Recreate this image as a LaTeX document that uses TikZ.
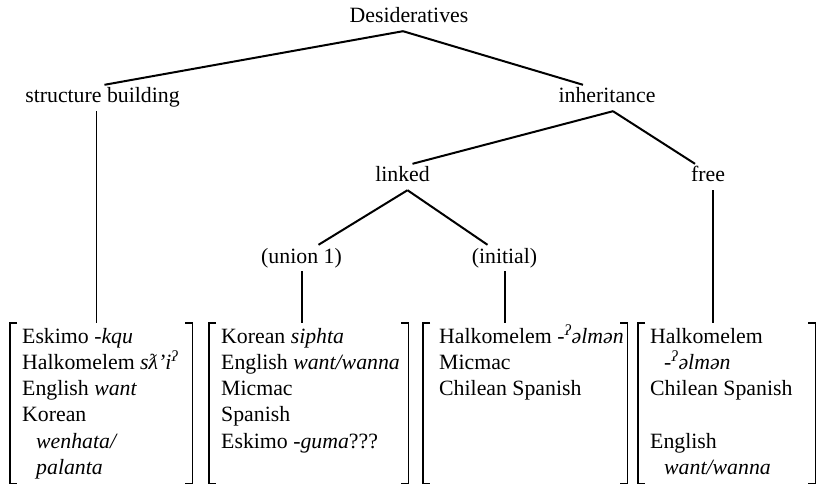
\documentclass[tikz,border=0pt]{standalone}
\usepackage{fontspec}
\setmainfont{Liberation Serif}
\usetikzlibrary{calc}
\tikzset{
  lbl/.style={anchor=base,inner xsep=0pt,inner ysep=4pt,text height=14pt,text depth=4pt,
    font=\fontsize{21.8}{26}\selectfont},
  edge/.style={line width=2pt},
  brk/.style={line width=1.7pt},
  listbox/.style={rectangle,inner sep=0pt,anchor=north west,minimum height=160pt},
  listtxt/.style={inner sep=0pt,anchor=north west,align=left,
    font=\fontsize{21.8}{26.2}\selectfont}
}
\newcommand{\brackets}[1]{%
  \draw[brk] ([xshift=7pt]#1.north west) -- (#1.north west) -- (#1.south west) -- ([xshift=7pt]#1.south west);
  \draw[brk] ([xshift=-7pt]#1.north east) -- (#1.north east) -- (#1.south east) -- ([xshift=-7pt]#1.south east);}
\newcommand{\glot}{\textsuperscript{\textit{ʔ}}}
\begin{document}
\begin{tikzpicture}[x=1pt,y=-1pt]
\useasboundingbox (0,0) rectangle (822,484);
\node[lbl] (des) at (409,23) {Desideratives};
\node[lbl] (sb) at (102.5,103) {structure building};
\node[lbl] (inh) at (607,103) {inheritance};
\node[lbl] (lnk) at (402.5,182) {linked};
\node[lbl] (fre) at (708,182) {free};
\node[lbl] (un) at (301.5,263) {(union 1)};
\node[lbl] (ini) at (504.5,263) {(initial)};
\node[listbox,minimum width=182pt] (b1) at (10,323) {};
\node[listbox,minimum width=199pt] (b2) at (209,323) {};
\node[listbox,minimum width=204pt] (b3) at (423,323) {};
\node[listbox,minimum width=177pt] (b4) at (638,323) {};
\node[listtxt] (t1) at ([xshift=12pt,yshift=-1.7pt]b1.north west)
  {\strut Eskimo \textit{-kqu}\\ Halkomelem \textit{sƛ'i}\glot\\ English \textit{want}\\ Korean\\
   \hspace*{14pt}\textit{wenhata/}\\ \hspace*{14pt}\textit{palanta}};
\node[listtxt] (t2) at ([xshift=12pt,yshift=-1.7pt]b2.north west)
  {\strut Korean \textit{siphta}\\ English \textit{want/wanna}\\ Micmac\\ Spanish\\ Eskimo -\textit{guma}???};
\node[listtxt] (t3) at ([xshift=16pt,yshift=-1.7pt]b3.north west)
  {\strut Halkomelem -\glot\textit{əlmən}\\ Micmac\\ Chilean Spanish};
\node[listtxt] (t4) at ([xshift=12pt,yshift=-1.7pt]b4.north west)
  {\strut Halkomelem\\ \hspace*{14pt}-\glot\textit{əlmən}\\ Chilean Spanish\\[26.2pt]
   English\\ \hspace*{14pt}\textit{want/wanna}};
\brackets{b1}\brackets{b2}\brackets{b3}\brackets{b4}
\draw[edge] ([xshift=-6pt]des.south) -- ([xshift=2pt]sb.north);
\draw[edge] ([xshift=-6pt]des.south) -- ([xshift=-24pt]inh.north);
\draw[edge] ([xshift=6pt]inh.south) -- ([xshift=10pt]lnk.north);
\draw[edge] ([xshift=6pt]inh.south) -- ([xshift=-13pt]fre.north);
\draw[edge] ([xshift=5pt]lnk.south) -- ([xshift=17pt]un.north);
\draw[edge] ([xshift=5pt]lnk.south) -- ([xshift=-17pt]ini.north);
\draw[edge,line width=1.3pt] ([xshift=-6pt]sb.south) -- ([xshift=-6pt]sb.south |- b1.north);
\draw[edge] (un.south) -- (un.south |- b2.north);
\draw[edge] (ini.south) -- (ini.south |- b3.north);
\draw[edge] ([xshift=5pt]fre.south) -- ([xshift=5pt]fre.south |- b4.north);
\end{tikzpicture}
\end{document}
